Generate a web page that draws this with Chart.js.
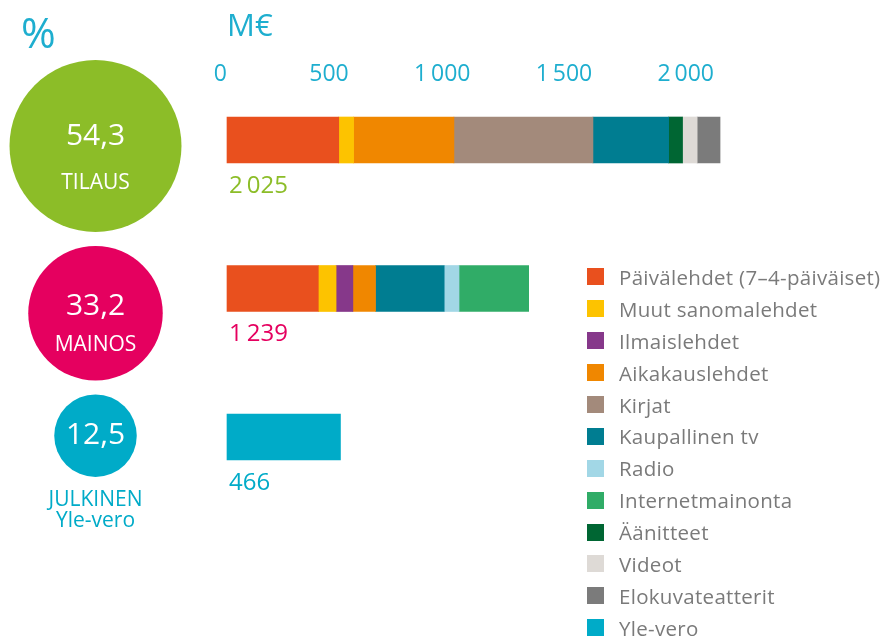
<!DOCTYPE html>
<html>
<head>
<meta charset="utf-8">
<script src="https://cdn.jsdelivr.net/npm/chart.js@4.4.0/dist/chart.umd.min.js"></script>
<style>
  body { margin: 0; background: #fff; font-family: "Open Sans", sans-serif; }
  #wrap { position: relative; width: 884px; height: 636px; overflow: hidden; }
  #share-chart { position: absolute; left: 0; top: 0; }
  #media-chart { position: absolute; left: 200px; top: 0; }
  #legend { position: absolute; left: 587px; top: 261px; margin: 0; padding: 0; list-style: none; }
  #legend li { height: 31.9px; display: flex; align-items: center; font-size: 20.5px; letter-spacing: 0.3px; color: #7a7a7a; white-space: nowrap; }
  #legend span { width: 17px; height: 17px; margin-right: 15px; flex: none; }
</style>
</head>
<body>
<div id="wrap">
  <canvas id="share-chart" width="200" height="636"></canvas>
  <canvas id="media-chart" width="684" height="636"></canvas>
  <ul id="legend"></ul>
</div>
<script>
// Data
var categories = ["TILAUS", "MAINOS", "JULKINEN"];
var categorySubLabels = ["", "", "Yle-vero"];
var sharePercent = [54.3, 33.2, 12.5];
var categoryColors = ["#8cbd28", "#e5005f", "#00abc8"];

var mediaNames = [
  "Päivälehdet (7–4-päiväiset)",
  "Muut sanomalehdet",
  "Ilmaislehdet",
  "Aikakauslehdet",
  "Kirjat",
  "Kaupallinen tv",
  "Radio",
  "Internetmainonta",
  "Äänitteet",
  "Videot",
  "Elokuvateatterit",
  "Yle-vero",
];
var mediaColors = [
  "#e9501e", "#fdc300", "#86388a", "#f08700", "#a38a7b", "#007d91",
  "#a2d7e6", "#30ac67", "#006633", "#dedad6", "#7b7b7b", "#00abc8",
];
// M€ per media, one array per revenue type
var tilausValues = [459, 61, 0, 412, 571, 311, 0, 0, 57, 60, 94, 0];
var mainosValues = [375, 73, 69, 93, 0, 282, 61, 286, 0, 0, 0, 0];
var julkinenValues = [0, 0, 0, 0, 0, 0, 0, 0, 0, 0, 0, 466];
var axisTicks = [0, 500, 1000, 1500, 2000];

var cyan = "#1eaecf";
var fontFamily = '"Open Sans", sans-serif';

function formatNum(v) {
  if (v < 1000) return String(v);
  return Math.floor(v / 1000) + "\u2009" + String(v % 1000).padStart(3, "0");
}

// Totals under the bars
var totalsPlugin = {
  id: "totals",
  afterDatasetsDraw: function (chart) {
    var ctx = chart.ctx;
    var yScale = chart.scales.y;
    ctx.save();
    ctx.font = "24px " + fontFamily;
    ctx.textBaseline = "middle";
    categories.forEach(function (cat, i) {
      var total = chart.data.datasets.reduce(function (s, d) { return s + (d.data[i] || 0); }, 0);
      ctx.fillStyle = categoryColors[i];
      ctx.fillText(formatNum(total), chart.chartArea.left + 2, yScale.getPixelForValue(i) + 46);
    });
    ctx.restore();
  },
};

var mediaChart = new Chart(document.getElementById("media-chart"), {
  type: "bar",
  data: {
    labels: categories,
    datasets: mediaNames.map(function (name, i) {
      return {
        label: name,
        // empty segments as null so no hairlines are drawn
        data: [tilausValues[i], mainosValues[i], julkinenValues[i]].map(function (v) { return v || null; }),
        backgroundColor: mediaColors[i],
        borderWidth: 0,
        barThickness: 46,
        clip: false,
      };
    }),
  },
  options: {
    responsive: false,
    animation: false,
    events: [],
    indexAxis: "y",
    layout: { padding: { left: 27, right: 97, top: 0, bottom: 199 } },
    scales: {
      x: {
        position: "top",
        stacked: true,
        min: 0,
        max: 2300,
        grid: { display: false, drawTicks: false },
        border: { display: false },
        afterBuildTicks: function (scale) {
          scale.ticks = axisTicks.map(function (v) { return { value: v }; });
        },
        afterFit: function (scale) {
          scale.height = 140;
          scale.paddingLeft = 0;
          scale.paddingRight = 0;
        },
        ticks: {
          align: "end",
          padding: 52,
          maxRotation: 0,
          autoSkip: false,
          color: cyan,
          font: { family: fontFamily, size: 23 },
          callback: function (v) { return formatNum(v); },
        },
        title: {
          display: true,
          text: "M€",
          align: "start",
          color: cyan,
          font: { family: fontFamily, size: 31 },
          padding: { top: 9, bottom: 0 },
        },
      },
      y: { type: "category", stacked: true, offset: false, display: false },
    },
    plugins: { legend: { display: false }, tooltip: { enabled: false } },
  },
  plugins: [totalsPlugin],
});

// Legend built from the datasets
var legend = document.getElementById("legend");
mediaChart.data.datasets.forEach(function (ds) {
  var li = document.createElement("li");
  var box = document.createElement("span");
  box.style.background = ds.backgroundColor;
  li.appendChild(box);
  li.appendChild(document.createTextNode(ds.label));
  legend.appendChild(li);
});

// Share circles: area follows the percentage, stacked top-down with a gap
var radiusFactor = 11.67;
var circleTop = 60;
var circleGap = 14;
var shareRadii = sharePercent.map(function (p) { return radiusFactor * Math.sqrt(p); });
var shareY = [];
shareRadii.reduce(function (top, r) {
  shareY.push(top + r);
  return top + 2 * r + circleGap;
}, circleTop);

var circleTextPlugin = {
  id: "circleText",
  afterDatasetsDraw: function (chart) {
    var ctx = chart.ctx;
    var points = chart.getDatasetMeta(0).data;
    ctx.save();
    ctx.fillStyle = cyan;
    ctx.font = "42px " + fontFamily;
    ctx.textBaseline = "alphabetic";
    ctx.fillText("%", 21, 48);
    ctx.textAlign = "center";
    ctx.textBaseline = "middle";
    points.forEach(function (pt, i) {
      var num = sharePercent[i].toFixed(1).replace(".", ",");
      var r = pt.options.radius;
      ctx.fillStyle = "#fff";
      ctx.font = "30px " + fontFamily;
      if (categorySubLabels[i]) {
        ctx.fillText(num, pt.x, pt.y);
        ctx.fillStyle = categoryColors[i];
        ctx.font = "21px " + fontFamily;
        ctx.fillText(categories[i], pt.x, pt.y + r + 23);
        ctx.fillText(categorySubLabels[i], pt.x, pt.y + r + 44);
      } else {
        ctx.fillText(num, pt.x, pt.y + 5 - 0.17 * r);
        ctx.font = "21px " + fontFamily;
        ctx.fillText(categories[i], pt.x, pt.y + 16 + 0.24 * r);
      }
    });
    ctx.restore();
  },
};

var shareChart = new Chart(document.getElementById("share-chart"), {
  type: "bubble",
  data: {
    datasets: [{
      data: categories.map(function (c, i) {
        return { x: 0.5, y: shareY[i], r: shareRadii[i] };
      }),
      backgroundColor: categoryColors,
      borderWidth: 0,
      clip: false,
    }],
  },
  options: {
    responsive: false,
    animation: false,
    events: [],
    layout: { autoPadding: false, padding: { left: 0, right: 9, top: 0, bottom: 0 } },
    scales: {
      x: { type: "linear", min: 0, max: 1, display: false },
      y: { type: "linear", min: 0, max: 636, reverse: true, display: false },
    },
    plugins: { legend: { display: false }, tooltip: { enabled: false } },
  },
  plugins: [circleTextPlugin],
});
</script>
</body>
</html>
